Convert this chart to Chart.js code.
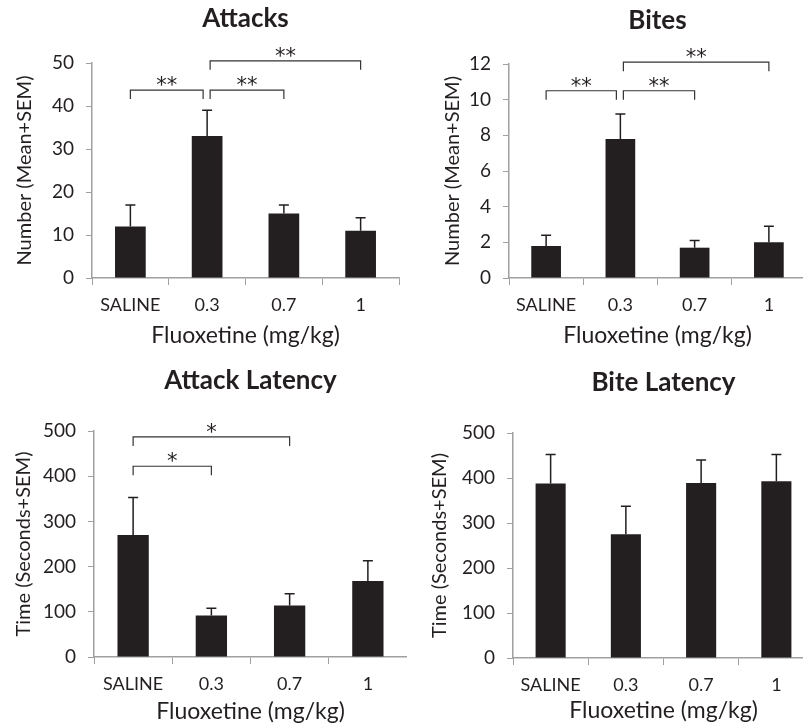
<!DOCTYPE html>
<html>
<head>
<meta charset="utf-8">
<script src="https://cdn.jsdelivr.net/npm/chart.js@4.4.1/dist/chart.umd.min.js"></script>
<style>
    html, body { margin: 0; padding: 0; background: #fff; overflow: hidden; }
    #wrap { position: relative; width: 803px; height: 725px; overflow: hidden; }
    #wrap canvas { position: absolute; }
</style>
</head>
<body>
<div id="wrap">
    <canvas id="attacksChart" width="400" height="360" style="left:0;top:0"></canvas>
    <canvas id="bitesChart" width="406" height="360" style="left:400px;top:0"></canvas>
    <canvas id="attackLatChart" width="407" height="365" style="left:0;top:360px"></canvas>
    <canvas id="biteLatChart" width="414" height="365" style="left:400px;top:360px"></canvas>
</div>
<script>
const doses = ['SALINE', '0.3', '0.7', '1'];

const attacks = [12, 33, 15, 11];
const attacksSem = [5, 6, 2, 3];
const attacksTicks = [0, 10, 20, 30, 40, 50];
const attacksBrackets = [[0, 1, 43.7, '**'], [1, 2, 43.7, '**'], [1, 3, 50.5, '**']];

const bites = [1.8, 7.8, 1.7, 2.0];
const bitesSem = [0.6, 1.4, 0.4, 0.9];
const bitesTicks = [0, 2, 4, 6, 8, 10, 12];
const bitesBrackets = [[0, 1, 10.5, '**'], [1, 2, 10.5, '**'], [1, 3, 12.1, '**']];

const attackLatency = [270, 92, 114, 168];
const attackLatencySem = [83, 16, 26, 45];
const latencyTicks = [0, 100, 200, 300, 400, 500];
const attackLatencyBrackets = [[0, 1, 422, '*'], [0, 2, 487, '*']];

const biteLatency = [388, 275, 389, 393];
const biteLatencySem = [64, 62, 51, 59];
const biteLatencyBrackets = [];

const INK = '#231f20';
const AXIS = '#a0a0a0';
const FONT = 'Lato';

// error bars (upper only) and significance brackets
const annotPlugin = {
    id: 'annot',
    afterDatasetsDraw(chart, args, opts) {
        const ctx = chart.ctx;
        const x = chart.scales.x;
        const y = chart.scales.y;
        const meta = chart.getDatasetMeta(0);
        ctx.save();
        ctx.strokeStyle = INK;
        ctx.lineWidth = 1.5;
        opts.sem.forEach((s, i) => {
            const v = chart.data.datasets[0].data[i];
            const cx = meta.data[i].x;
            const y0 = y.getPixelForValue(v);
            const y1 = y.getPixelForValue(v + s);
            ctx.beginPath();
            ctx.moveTo(cx, y0);
            ctx.lineTo(cx, y1);
            ctx.moveTo(cx - 5, y1);
            ctx.lineTo(cx + 5, y1);
            ctx.stroke();
        });

        ctx.lineWidth = 1.2;
        ctx.strokeStyle = '#333';
        ctx.fillStyle = INK;
        ctx.font = '21px "DejaVu Sans"';
        ctx.textAlign = 'center';
        ctx.textBaseline = 'alphabetic';
        const br = opts.brackets;
        br.forEach(([a, b, val, label]) => {
            let xa = x.getPixelForValue(a);
            let xb = x.getPixelForValue(b);
            // nudge ends that share a bar with a neighbouring bracket
            if (br.some(o => o[0] === b)) xb -= 4;
            if (br.some(o => o[1] === a)) xa += 3;
            const yy = y.getPixelForValue(val);
            ctx.beginPath();
            ctx.moveTo(xa, yy + 9);
            ctx.lineTo(xa, yy);
            ctx.lineTo(xb, yy);
            ctx.lineTo(xb, yy + 9);
            ctx.stroke();
            ctx.fillText(label, (xa + xb) / 2, yy + 2);
        });
        ctx.restore();
    }
};

function makePanel(id, cfg) {
    return new Chart(document.getElementById(id), {
        type: 'bar',
        data: {
            labels: doses,
            datasets: [{
                data: cfg.values,
                backgroundColor: INK,
                borderWidth: 0,
                barPercentage: 0.4,
                categoryPercentage: 1,
            }]
        },
        plugins: [annotPlugin],
        options: {
            responsive: false,
            animation: false,
            layout: { padding: { left: 0, right: cfg.padRight, top: 0, bottom: 0 } },
            plugins: {
                legend: { display: false },
                tooltip: { enabled: false },
                title: {
                    display: true,
                    text: cfg.title,
                    fullSize: false,
                    color: INK,
                    font: { family: FONT, size: 26, weight: 'bold', lineHeight: 1.2 },
                    padding: { top: cfg.titleTop - 1, bottom: cfg.plotTop - cfg.titleTop + 1 - 31.2 }
                },
                annot: { sem: cfg.sem, brackets: cfg.brackets }
            },
            scales: {
                x: {
                    afterFit: s => { s.height = cfg.xHeight; },
                    grid: { display: true, drawOnChartArea: false, offset: true, tickLength: 7, color: AXIS },
                    border: { color: AXIS, width: 1.5 },
                    ticks: { color: INK, font: { family: FONT, size: 18 }, padding: 9 },
                    title: {
                        display: true,
                        text: 'Fluoxetine (mg/kg)',
                        color: INK,
                        font: { family: FONT, size: 23, lineHeight: 1.2 },
                        padding: { top: 0, bottom: cfg.xTitlePad - 1.8 }
                    }
                },
                y: {
                    min: 0,
                    max: cfg.ticks[cfg.ticks.length - 1],
                    afterFit: s => { s.width = cfg.yWidth; },
                    afterBuildTicks: s => { s.ticks = cfg.ticks.map(v => ({ value: v })); },
                    grid: { display: true, drawOnChartArea: false, tickLength: 6, color: AXIS },
                    border: { color: AXIS, width: 1.5 },
                    ticks: { color: INK, font: { family: FONT, size: 19 }, padding: 12 },
                    title: {
                        display: true,
                        text: cfg.yTitle,
                        color: INK,
                        font: { family: FONT, size: 20, lineHeight: 1.2 },
                        padding: { top: cfg.yTitlePad - 0.6, bottom: 0 }
                    }
                }
            }
        }
    });
}

makePanel('attacksChart', {
    title: 'Attacks', values: attacks, sem: attacksSem, ticks: attacksTicks,
    brackets: attacksBrackets, yTitle: 'Number (Mean+SEM)',
    titleTop: 4, plotTop: 63, xHeight: 82, xTitlePad: 12.5, yWidth: 92, yTitlePad: 13, padRight: 1
});

makePanel('bitesChart', {
    title: 'Bites', values: bites, sem: bitesSem, ticks: bitesTicks,
    brackets: bitesBrackets, yTitle: 'Number (Mean+SEM)',
    titleTop: 6, plotTop: 64, xHeight: 82, xTitlePad: 12.5, yWidth: 109, yTitlePad: 41, padRight: 0
});

makePanel('attackLatChart', {
    title: 'Attack Latency', values: attackLatency, sem: attackLatencySem, ticks: latencyTicks,
    brackets: attackLatencyBrackets, yTitle: 'Time (Seconds+SEM)',
    titleTop: 6, plotTop: 71, xHeight: 68, xTitlePad: 1.5, yWidth: 94, yTitlePad: 12, padRight: 0
});

makePanel('biteLatChart', {
    title: 'Bite Latency', values: biteLatency, sem: biteLatencySem, ticks: latencyTicks,
    brackets: biteLatencyBrackets, yTitle: 'Time (Seconds+SEM)',
    titleTop: 8, plotTop: 73, xHeight: 67, xTitlePad: 2, yWidth: 113, yTitlePad: 28, padRight: 0
});
</script>
</body>
</html>
